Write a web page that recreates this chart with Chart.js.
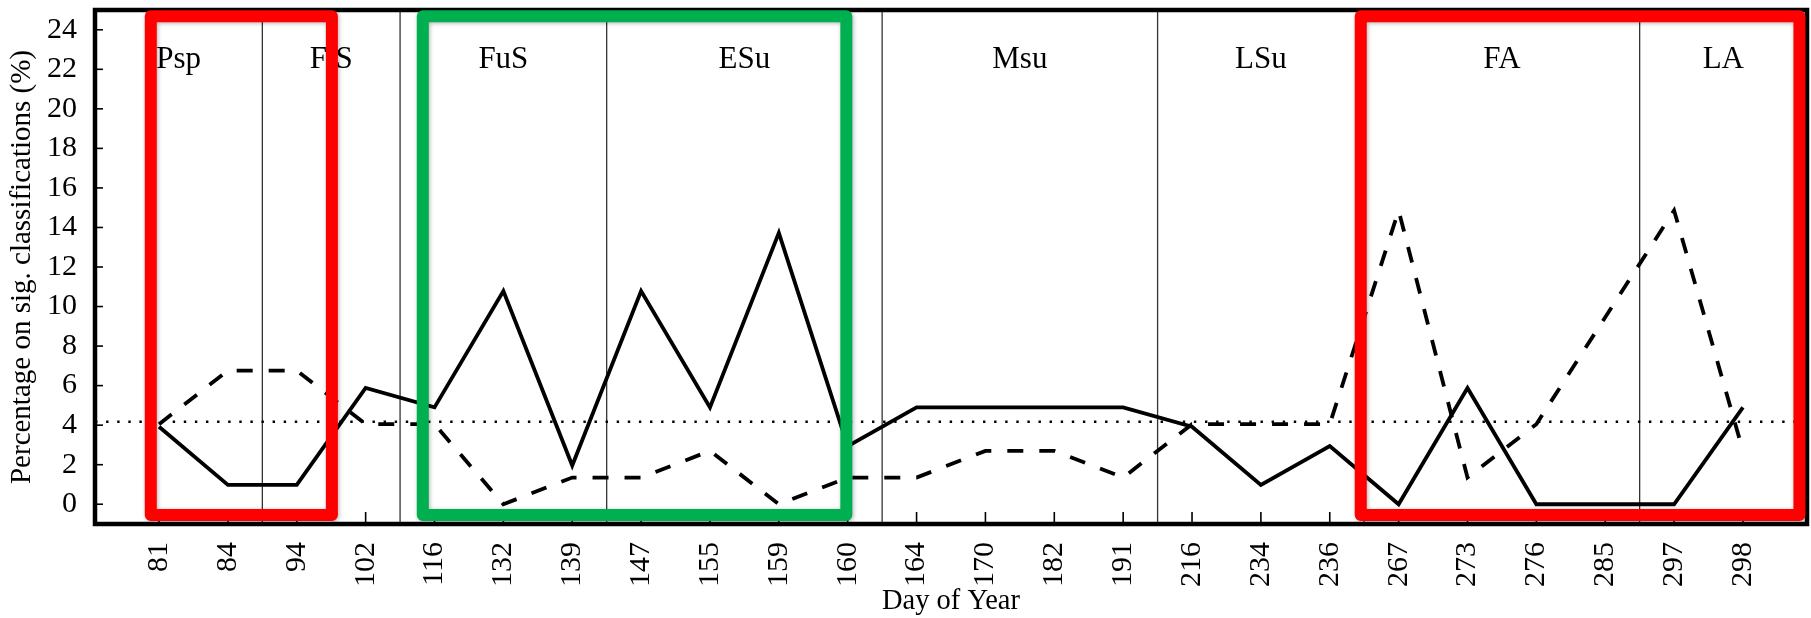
<!DOCTYPE html>
<html>
<head>
<meta charset="utf-8">
<script src="https://cdn.jsdelivr.net/npm/chart.js@4.4.1/dist/chart.umd.min.js"></script>
<style>
  html, body { margin: 0; padding: 0; background: #ffffff; }
  #wrap { width: 1811px; height: 618px; }
</style>
</head>
<body>
<div id="wrap"><canvas id="c" width="1811" height="618"></canvas></div>
<script>
// ---------------- data ----------------
const days = ['81','84','94','102','116','132','139','147','155','159','160','164',
              '170','182','191','216','234','236','267','273','276','285','297','298'];
// solid line (%)
const solidSeries = [3.92, 0.98, 0.98, 5.88, 4.90, 10.78, 1.96, 10.78, 4.90, 13.73, 2.94, 4.90,
                     4.90, 4.90, 4.90, 3.92, 0.98, 2.94, 0.00, 5.88, 0.00, 0.00, 0.00, 4.90];
// dashed line (%)
const dashedSeries = [4.05, 6.76, 6.76, 4.05, 4.05, 0.00, 1.35, 1.35, 2.70, 0.00, 1.35, 1.35,
                      2.70, 2.70, 1.35, 4.05, 4.05, 4.05, 14.86, 1.35, 4.05, 9.46, 14.86, 2.70];
// dotted reference level (%)
const chanceLevel = 4.17;
const yTicks = [0, 2, 4, 6, 8, 10, 12, 14, 16, 18, 20, 22, 24];
// seasons and the last day of each season (boundary drawn after that day)
const seasonNames = ['Psp', 'FiS', 'FuS', 'ESu', 'Msu', 'LSu', 'FA', 'LA'];
const seasonEnds  = ['84', '102', '139', '160', '191', '236', '285'];
// highlight frames, in axis units (category index / percent)
const highlightBoxes = [
  { x0: -0.12, x1: 2.51,  y0: -0.55, y1: 24.68, color: '#ff0000' },
  { x0: 3.83,  x1: 9.98,  y0: -0.55, y1: 24.68, color: '#00b050' },
  { x0: 17.45, x1: 23.82, y0: -0.55, y1: 24.68, color: '#ff0000' }
];

const SERIF = "'Liberation Serif', 'Times New Roman', serif";

// ---------------- custom drawing ----------------
const decorations = {
  id: 'decorations',
  beforeDatasetsDraw(chart) {
    const { ctx, chartArea: a, scales: { x, y } } = chart;
    ctx.save();
    // season separators
    ctx.strokeStyle = '#333';
    ctx.lineWidth = 1.3;
    const bounds = seasonEnds.map(d => days.indexOf(d) + 0.5);
    bounds.forEach(b => {
      const px = x.getPixelForValue(b);
      ctx.beginPath();
      ctx.moveTo(px, a.top);
      ctx.lineTo(px, a.bottom);
      ctx.stroke();
    });
    // dotted chance level
    ctx.strokeStyle = '#000';
    ctx.lineWidth = 2.4;
    ctx.setLineDash([2.4, 8.7]);
    const py = y.getPixelForValue(chanceLevel);
    ctx.beginPath();
    ctx.moveTo(a.left, py);
    ctx.lineTo(a.right, py);
    ctx.stroke();
    ctx.setLineDash([]);
    // inward tick marks
    ctx.lineWidth = 1.6;
    x.ticks.forEach(t => {
      const px = x.getPixelForValue(t.value);
      ctx.beginPath();
      ctx.moveTo(px, a.bottom);
      ctx.lineTo(px, a.bottom - 12);
      ctx.stroke();
    });
    y.ticks.forEach(t => {
      const p = y.getPixelForValue(t.value);
      ctx.beginPath();
      ctx.moveTo(a.left, p);
      ctx.lineTo(a.left + 8, p);
      ctx.stroke();
    });
    // season labels
    ctx.fillStyle = '#000';
    ctx.font = '31px ' + SERIF;
    ctx.textAlign = 'center';
    ctx.textBaseline = 'alphabetic';
    const edges = [x.min, ...bounds, x.max];
    seasonNames.forEach((n, i) => {
      const cx = x.getPixelForValue((edges[i] + edges[i + 1]) / 2);
      ctx.fillText(n, cx, a.top + 58);
    });
    ctx.restore();
  },
  afterDraw(chart) {
    const { ctx, chartArea: a, scales: { x, y } } = chart;
    ctx.save();
    // frame
    ctx.strokeStyle = '#000';
    ctx.lineWidth = 4.5;
    ctx.strokeRect(a.left, a.top, a.right - a.left, a.bottom - a.top);
    // highlight boxes
    ctx.lineWidth = 12;
    ctx.lineJoin = 'round';
    ctx.shadowColor = 'rgba(0,0,0,0.3)';
    ctx.shadowBlur = 4;
    ctx.shadowOffsetX = 1;
    ctx.shadowOffsetY = 1;
    highlightBoxes.forEach(b => {
      const l = x.getPixelForValue(b.x0), r = x.getPixelForValue(b.x1);
      const t = y.getPixelForValue(b.y1), bt = y.getPixelForValue(b.y0);
      ctx.strokeStyle = b.color;
      ctx.strokeRect(l, t, r - l, bt - t);
    });
    ctx.restore();
  }
};

new Chart(document.getElementById('c'), {
  type: 'line',
  data: {
    datasets: [
      {
        label: 'solid',
        data: solidSeries.map((v, i) => ({ x: i, y: v })),
        borderColor: '#000',
        borderWidth: 3.8,
        pointRadius: 0,
        tension: 0,
        fill: false
      },
      {
        label: 'dashed',
        data: dashedSeries.map((v, i) => ({ x: i, y: v })),
        borderColor: '#000',
        borderWidth: 3.8,
        borderDash: [16, 16],
        pointRadius: 0,
        tension: 0,
        fill: false
      }
    ]
  },
  options: {
    responsive: false,
    animation: false,
    devicePixelRatio: 1,
    layout: { padding: { top: 10, right: 4, left: 0, bottom: 0 } },
    plugins: { legend: { display: false }, tooltip: { enabled: false } },
    scales: {
      x: {
        type: 'linear',
        min: -0.93,
        max: 23.93,
        grid: { display: false },
        border: { display: false },
        afterBuildTicks: s => { s.ticks = days.map((d, i) => ({ value: i })); },
        afterFit: s => { s.height = 94; s.paddingLeft = 0; s.paddingRight = 0; },
        ticks: {
          autoSkip: false,
          minRotation: 90,
          maxRotation: 90,
          padding: 10,
          color: '#000',
          font: { family: SERIF, size: 30 },
          callback: (v, i) => days[i]
        },
        title: {
          display: true,
          text: 'Day of Year',
          color: '#000',
          font: { family: SERIF, size: 28.5, lineHeight: 1 },
          padding: { top: 0, bottom: 2 }
        }
      },
      y: {
        min: -1,
        max: 25,
        grid: { display: false },
        border: { display: false },
        afterBuildTicks: s => { s.ticks = yTicks.map(v => ({ value: v })); },
        afterFit: s => { s.width = 95; s.paddingTop = 0; s.paddingBottom = 0; },
        ticks: {
          padding: 10,
          color: '#000',
          font: { family: SERIF, size: 30 },
          callback: v => String(v)
        },
        title: {
          display: true,
          text: 'Percentage on sig. classifications (%)',
          color: '#000',
          font: { family: SERIF, size: 29, lineHeight: 1 },
          padding: { top: 8, bottom: 0 }
        }
      }
    }
  },
  plugins: [decorations]
});
</script>
</body>
</html>
